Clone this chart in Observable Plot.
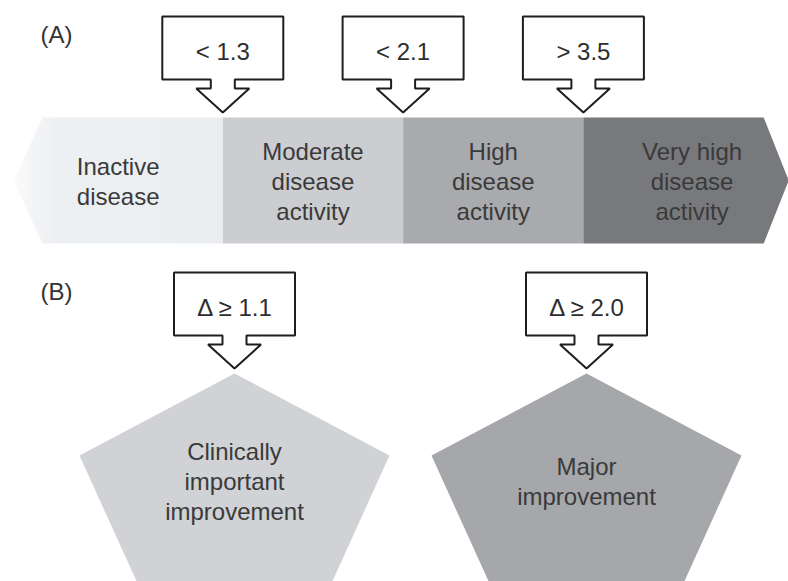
<!DOCTYPE html>
<html>
<head>
<meta charset="utf-8">
<script src="https://cdn.jsdelivr.net/npm/d3@7"></script>
<script src="https://cdn.jsdelivr.net/npm/@observablehq/plot@0.6"></script>
<style>
  html, body { margin: 0; padding: 0; background: #fff; overflow: hidden; }
  #chart svg { display: block; overflow: hidden; }
</style>
</head>
<body>
<div id="chart"></div>
<script>
// ---------- data ----------
const panelLabels = ["(A)", "(B)"];
const activityLevels = [
  "Inactive\ndisease",
  "Moderate\ndisease\nactivity",
  "High\ndisease\nactivity",
  "Very high\ndisease\nactivity"
];
const activityCutoffs = ["< 1.3", "< 2.1", "> 3.5"];
const improvementLevels = ["Clinically\nimportant\nimprovement", "Major\nimprovement"];
const improvementCutoffs = ["\u0394 \u2265 1.1", "\u0394 \u2265 2.0"];
const activityColors = ["url(#fadeLeft)", "#cbcdd0", "#a8aaad", "#78797c"];
const improvementColors = ["#d0d2d5", "#a6a7aa"];

// ---------- layout (diagram units) ----------
const W = 788, H = 581;
const band = {left: 42, width: 180.3, top: 117, bottom: 243, tipL: 29, tipR: 25};
band.mid = (band.top + band.bottom) / 2;
const callout = {w: 121, h: 63, stemHalf: 12, stemLen: 9, headHalf: 26.5, headLen: 24};
const pent = {top: 373, cx0: 234, step: 352, shoulderDy: 82, shoulderHalf: 155, baseDy: 212, baseHalf: 96};
const impTipY = 368, actTipY = 112;

const boundary = i => band.left + i * band.width;

// segments of the activity band
const shapes = [];
activityLevels.forEach((lab, i) => {
  const x0 = boundary(i), x1 = boundary(i + 1);
  let pts;
  if (i === 0) pts = [[x0 - band.tipL, band.mid], [x0, band.top], [x1, band.top], [x1, band.bottom], [x0, band.bottom]];
  else if (i === activityLevels.length - 1) pts = [[x0, band.top], [x1, band.top], [x1 + band.tipR, band.mid], [x1, band.bottom], [x0, band.bottom]];
  else pts = [[x0, band.top], [x1, band.top], [x1, band.bottom], [x0, band.bottom]];
  pts.forEach(([x, y]) => shapes.push({id: "a" + i, x, y, fill: activityColors[i]}));
});
const activityLabelX = activityLevels.map((_, i) => {
  const x0 = i === 0 ? boundary(0) - band.tipL : boundary(i);
  const x1 = i === activityLevels.length - 1 ? boundary(i + 1) + band.tipR : boundary(i + 1);
  return (x0 + x1) / 2 + (i === activityLevels.length - 1 ? 6 : 0);
});

// pentagons
const pentCx = improvementLevels.map((_, i) => pent.cx0 + i * pent.step);
improvementLevels.forEach((lab, i) => {
  const cx = pentCx[i];
  [[cx, pent.top], [cx + pent.shoulderHalf, pent.top + pent.shoulderDy], [cx + pent.baseHalf, pent.top + pent.baseDy],
   [cx - pent.baseHalf, pent.top + pent.baseDy], [cx - pent.shoulderHalf, pent.top + pent.shoulderDy]]
    .forEach(([x, y]) => shapes.push({id: "p" + i, x, y, fill: improvementColors[i]}));
});

// callouts (box + down arrow), tip at (tx, ty)
function calloutPts(tx, ty) {
  const c = callout;
  const bb = ty - c.headLen - c.stemLen, bt = bb - c.h, sb = bb + c.stemLen;
  return [[tx - c.w / 2, bt], [tx + c.w / 2, bt], [tx + c.w / 2, bb], [tx + c.stemHalf, bb], [tx + c.stemHalf, sb],
          [tx + c.headHalf, sb], [tx, ty], [tx - c.headHalf, sb], [tx - c.stemHalf, sb], [tx - c.stemHalf, bb], [tx - c.w / 2, bb]];
}
const callouts = [];
const calloutTexts = [];
activityCutoffs.forEach((t, i) => {
  const tx = boundary(i + 1);
  calloutPts(tx, actTipY).forEach(([x, y]) => callouts.push({id: "ca" + i, x, y}));
  calloutTexts.push({text: t, x: tx, y: actTipY - callout.headLen - callout.stemLen - callout.h / 2 + 4});
});
improvementCutoffs.forEach((t, i) => {
  const tx = pentCx[i];
  calloutPts(tx, impTipY).forEach(([x, y]) => callouts.push({id: "ci" + i, x, y}));
  calloutTexts.push({text: t, x: tx, y: impTipY - callout.headLen - callout.stemLen - callout.h / 2 + 4});
});

const font = "'Liberation Sans', Arial, Helvetica, sans-serif";
const textColor = "#3a3a3a";

const plot = Plot.plot({
  width: W, height: H,
  margin: 0,
  x: {domain: [0, W], range: [0, W], axis: null},
  y: {domain: [0, H], range: [0, H], axis: null},
  color: {type: "identity"},
  style: {fontFamily: font, background: "#fff", overflow: "hidden"},
  marks: [
    Plot.line(shapes, {x: "x", y: "y", z: "id", fill: "fill", stroke: null, curve: "linear-closed"}),
    Plot.line(callouts, {x: "x", y: "y", z: "id", fill: "#ffffff", stroke: "#1e1e1e", strokeWidth: 2,
                         strokeLinejoin: "miter", curve: "linear-closed"}),
    Plot.text(calloutTexts, {x: "x", y: "y", text: "text", fontSize: 24, fill: "#2e2e2e", lineAnchor: "middle"}),
    Plot.text(activityLevels, {x: (d, i) => activityLabelX[i], y: () => band.mid, text: d => d,
                               fontSize: 24, lineHeight: 1.25, fill: textColor, lineAnchor: "middle"}),
    Plot.text(improvementLevels, {x: (d, i) => pentCx[i], y: () => 480, text: d => d,
                                  fontSize: 24, lineHeight: 1.25, fill: textColor, lineAnchor: "middle"}),
    Plot.text(panelLabels, {x: () => 40, y: (d, i) => [35, 292][i], text: d => d, textAnchor: "start",
                            fontSize: 24, fill: "#333", lineAnchor: "middle"})
  ]
});

// gradient for the faded left tip
const ns = "http://www.w3.org/2000/svg";
const defs = document.createElementNS(ns, "defs");
const grad = document.createElementNS(ns, "linearGradient");
grad.setAttribute("id", "fadeLeft");
grad.setAttribute("x1", "0"); grad.setAttribute("x2", "1"); grad.setAttribute("y1", "0"); grad.setAttribute("y2", "0");
[[0, "#fbfbfc"], [0.1, "#f3f4f6"], [0.2, "#edf0f3"], [1, "#ebeef1"]].forEach(([o, c]) => {
  const s = document.createElementNS(ns, "stop");
  s.setAttribute("offset", o); s.setAttribute("stop-color", c);
  grad.appendChild(s);
});
defs.appendChild(grad);
plot.insertBefore(defs, plot.firstChild);

document.getElementById("chart").appendChild(plot);
</script>
</body>
</html>
